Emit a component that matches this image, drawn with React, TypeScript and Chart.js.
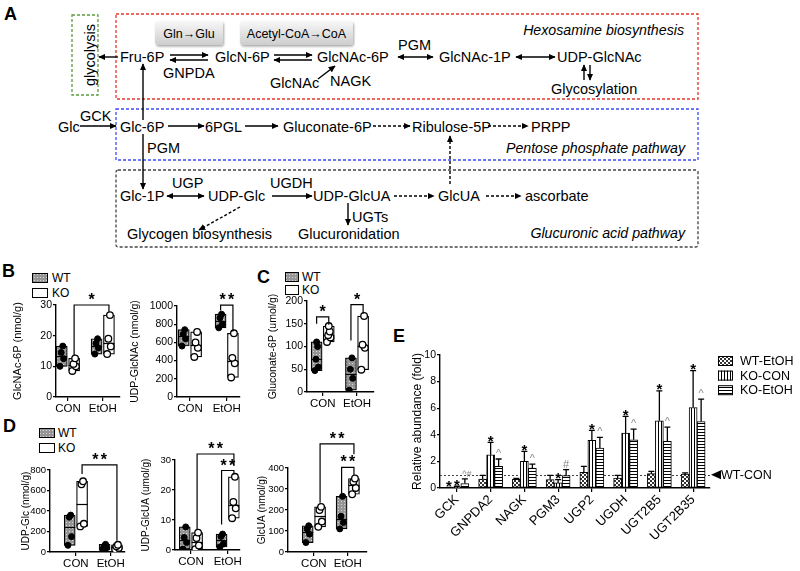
import React, { useEffect, useRef } from 'react';
import { Chart, registerables } from 'chart.js';
Chart.register(...registerables);

const FONT = '"Liberation Sans", Arial, Helvetica, sans-serif';

// ---------------- data ----------------
const GROUPS = ['CON', 'EtOH'];

// Panel B
const glcnac6pWT = [[10, 12.5, 14.5, 16.6], [14, 16, 17.5, 19]];
const glcnac6pKO = [[8.5, 10, 10.8, 12.6], [14, 16.5, 19, 26.7]];
const glcnac6pSig = [{ a: 1, b: 3, y: 30, dropA: 13.5, dropB: 27.8, n: 1 }];

const udpGlcnacWT = [[560, 640, 690, 740], [760, 800, 870, 910]];
const udpGlcnacKO = [[440, 540, 600, 715], [215, 370, 430, 700]];
const udpGlcnacSig = [{ a: 2, b: 3, y: 1010, dropA: 950, dropB: 720, n: 2 }];

// Panel C
const gluconate6pWT = [[47, 55, 72, 100, 110], [4, 30, 50, 75]];
const gluconate6pKO = [[110, 120, 125, 133, 145], [49, 97, 104, 167]];
const gluconate6pSig = [
  { a: 0, b: 1, y: 165, dropA: 150, dropB: 148, n: 1 },
  { a: 2, b: 3, y: 192, dropA: 113, dropB: 172, n: 1 },
];

// Panel D
const udpGlcWT = [[65, 150, 340, 360], [20, 40, 55, 75]];
const udpGlcKO = [[250, 275, 660, 690], [25, 40, 55, 70]];
const udpGlcSig = [{ a: 1, b: 3, y: 850, dropA: 760, dropB: 110, n: 2 }];

const udpGlcuaWT = [[0.3, 2.5, 4.2, 7.7], [1, 2, 4.5, 5.3]];
const udpGlcuaKO = [[0.3, 1.5, 4, 5.8], [10.6, 13.9, 16, 24.4]];
const udpGlcuaSig = [
  { a: 1, b: 3, y: 32, dropA: 7, dropB: 28, n: 2 },
  { a: 2, b: 3, y: 26.5, dropA: 8.5, dropB: 25.2, n: 2 },
];

const glcuaWT = [[45, 85, 110, 125], [110, 140, 170, 265]];
const glcuaKO = [[120, 145, 200, 215], [275, 305, 335, 350]];
const glcuaSig = [
  { a: 1, b: 3, y: 515, dropA: 235, dropB: 465, n: 2 },
  { a: 2, b: 3, y: 403, dropA: 280, dropB: 365, n: 2 },
];

// Panel E
const genes = ['GCK', 'GNPDA2', 'NAGK', 'PGM3', 'UGP2', 'UGDH', 'UGT2B5', 'UGT2B35'];
const wtEtoh = [0.03, 0.68, 0.65, 0.63, 1.18, 0.75, 1.08, 1.05];
const wtEtohErr = [0.02, 0.27, 0.08, 0.32, 0.45, 0.2, 0.17, 0.08];
const koCon = [0.08, 2.5, 2.0, 0.38, 3.58, 4.13, 5.05, 6.05];
const koConErr = [0.05, 0.93, 0.75, 0.25, 0.75, 1.25, 2.25, 2.78];
const koEtoh = [0.33, 1.63, 1.5, 0.93, 3.0, 3.63, 3.5, 5.0];
const koEtohErr = [0.35, 0.55, 0.3, 0.45, 0.8, 0.8, 1.08, 1.68];
const wtEtohMarks = ['*', '', '', '', '', '', '', ''];
const koConMarks = ['*', '*', '*', '*', '*', '*', '*', '*'];
const koEtohMarks = ['^#', '^', '^', '#', '^', '^', '^', '^'];
const eLegend = ['WT-EtOH', 'KO-CON', 'KO-EtOH'];

// ---------------- helpers ----------------
function tile(w: number, h: number, draw: (c: CanvasRenderingContext2D) => void): CanvasPattern {
  const c = document.createElement('canvas');
  c.width = w; c.height = h;
  const x = c.getContext('2d')!;
  draw(x);
  return x.createPattern(c, 'repeat')!;
}
const wtPattern = () => tile(3, 3, (c) => { c.fillStyle = '#959595'; c.fillRect(0, 0, 3, 3); c.fillStyle = '#d6d6d6'; c.fillRect(1, 1, 1, 1); });
const median = (a: number[]) => { const s = [...a].sort((p, q) => p - q); const m = Math.floor(s.length / 2); return s.length % 2 ? s[m] : (s[m - 1] + s[m]) / 2; };

function drawStar(ctx: CanvasRenderingContext2D, x: number, cy: number, n: number) {
  ctx.save();
  ctx.fillStyle = '#000';
  ctx.font = `bold 16px ${FONT}`;
  ctx.textAlign = 'center';
  ctx.textBaseline = 'alphabetic';
  for (let i = 0; i < n; i++) {
    const sx = x + (i - (n - 1) / 2) * 8.5;
    ctx.fillText('*', sx, cy + 9);
  }
  ctx.restore();
}

type Bracket = { a: number; b: number; y: number; dropA: number; dropB: number; n: number };
type BoxSpec = {
  title: string; yMax: number; yStep: number;
  wt: number[][]; ko: number[][]; sig: Bracket[];
  canvas: { left: number; top: number; width: number; height: number };
  area: { left: number; top: number; right: number; bottom: number };
  con: number; etoh: number; titleSize: number; tickSize: number;
};

const BOX_SPECS: BoxSpec[] = [
  { title: 'GlcNAc-6P (nmol/g)', yMax: 30, yStep: 10, wt: glcnac6pWT, ko: glcnac6pKO, sig: glcnac6pSig,
    canvas: { left: 8, top: 282, width: 117, height: 138 }, area: { left: 56, top: 305, right: 120, bottom: 397 }, con: 68, etoh: 103, titleSize: 11, tickSize: 10.5 },
  { title: 'UDP-GlcNAc (nmol/g)', yMax: 1000, yStep: 200, wt: udpGlcnacWT, ko: udpGlcnacKO, sig: udpGlcnacSig,
    canvas: { left: 126, top: 282, width: 119, height: 138 }, area: { left: 177, top: 306, right: 240, bottom: 397 }, con: 190, etoh: 227, titleSize: 10.5, tickSize: 10.5 },
  { title: 'Gluconate-6P (umol/g)', yMax: 200, yStep: 50, wt: gluconate6pWT, ko: gluconate6pKO, sig: gluconate6pSig,
    canvas: { left: 264, top: 278, width: 115, height: 137 }, area: { left: 307, top: 301, right: 375, bottom: 392 }, con: 323, etoh: 358, titleSize: 10.5, tickSize: 10.5 },
  { title: 'UDP-Glc (nmol/g)', yMax: 800, yStep: 200, wt: udpGlcWT, ko: udpGlcKO, sig: udpGlcSig,
    canvas: { left: 17, top: 440, width: 113, height: 131 }, area: { left: 50, top: 470, right: 125, bottom: 552 }, con: 76, etoh: 111, titleSize: 10, tickSize: 9.5 },
  { title: 'UDP-GlcUA (umol/g)', yMax: 30, yStep: 10, wt: udpGlcuaWT, ko: udpGlcuaKO, sig: udpGlcuaSig,
    canvas: { left: 137, top: 430, width: 108, height: 141 }, area: { left: 175, top: 460, right: 240, bottom: 550 }, con: 191, etoh: 228, titleSize: 10, tickSize: 9.5 },
  { title: 'GlcUA (nmol/g)', yMax: 400, yStep: 100, wt: glcuaWT, ko: glcuaKO, sig: glcuaSig,
    canvas: { left: 253, top: 425, width: 119, height: 146 }, area: { left: 288, top: 468, right: 367, bottom: 552 }, con: 314, etoh: 348, titleSize: 10, tickSize: 9.5 },
];

function BoxChart({ spec }: { spec: BoxSpec }) {
  const ref = useRef<HTMLCanvasElement>(null);
  useEffect(() => {
    const { canvas: cv, area } = spec;
    const ppu = spec.etoh - spec.con;
    const xmin = 1 - (spec.con - area.left) / ppu;
    const xmax = 2 + (area.right - spec.etoh) / ppu;
    const off = 6.2 / ppu;
    const pos = [1 - off, 1 + off, 2 - off, 2 + off];
    const jit = [-1.8, 1.8, -0.6, 1.0, 0].map((j) => j / ppu);
    const groups = [spec.wt[0], spec.ko[0], spec.wt[1], spec.ko[1]];
    const pts = (gi: number[]) => gi.flatMap((g) => groups[g].map((v, i) => ({ x: pos[g] + jit[i % jit.length], y: v })));
    const box = (gi: number[]) => gi.map((g) => ({ x: pos[g], y: [Math.min(...groups[g]), Math.max(...groups[g])] }));

    const medianPlugin = {
      id: 'medians',
      afterDatasetDraw(chart: any, args: any) {
        const ds = chart.data.datasets[args.index];
        if (!ds.medians) return;
        const ctx = chart.ctx; const y = chart.scales.y;
        args.meta.data.forEach((el: any, i: number) => {
          const { x, width } = el.getProps(['x', 'width'], true);
          const py = Math.round(y.getPixelForValue(ds.medians[i])) + 0.5;
          ctx.save(); ctx.strokeStyle = '#000'; ctx.lineWidth = 1.2;
          ctx.beginPath(); ctx.moveTo(x - width / 2, py); ctx.lineTo(x + width / 2, py); ctx.stroke(); ctx.restore();
        });
      },
    };
    const bracketPlugin = {
      id: 'brackets',
      afterDraw(chart: any) {
        const ctx = chart.ctx; const xs = chart.scales.x; const ys = chart.scales.y;
        spec.sig.forEach((b) => {
          const xa = xs.getPixelForValue(pos[b.a]); const xb = xs.getPixelForValue(pos[b.b]);
          const yl = ys.getPixelForValue(b.y);
          ctx.save(); ctx.strokeStyle = '#000'; ctx.lineWidth = 1.2;
          ctx.beginPath();
          ctx.moveTo(xa, ys.getPixelForValue(b.dropA)); ctx.lineTo(xa, yl); ctx.lineTo(xb, yl); ctx.lineTo(xb, ys.getPixelForValue(b.dropB));
          ctx.stroke(); ctx.restore();
          drawStar(ctx, (xa + xb) / 2, yl - 9, b.n);
        });
      },
    };
    const chart = new Chart(ref.current!, {
      type: 'bar',
      data: {
        datasets: [
          { type: 'scatter', data: pts([0, 2]), pointRadius: 3, pointBackgroundColor: '#000', pointBorderColor: '#000', pointBorderWidth: 1, order: 0 } as any,
          { type: 'scatter', data: pts([1, 3]), pointRadius: 3.3, pointBackgroundColor: '#fff', pointBorderColor: '#000', pointBorderWidth: 1.3, order: 0 } as any,
          { type: 'bar', data: box([0, 2]), medians: [median(groups[0]), median(groups[2])], backgroundColor: wtPattern(), borderColor: '#000', borderWidth: 1.2, borderSkipped: false, barThickness: 11, grouped: false, order: 1 } as any,
          { type: 'bar', data: box([1, 3]), medians: [median(groups[1]), median(groups[3])], backgroundColor: '#fff', borderColor: '#000', borderWidth: 1.2, borderSkipped: false, barThickness: 11, grouped: false, order: 1 } as any,
        ],
      },
      options: {
        responsive: false,
        animation: false,
        layout: { padding: { left: 0, top: area.top - cv.top, right: cv.left + cv.width - area.right, bottom: 0 } },
        plugins: { legend: { display: false }, tooltip: { enabled: false } },
        scales: {
          x: {
            type: 'linear', min: xmin, max: xmax, offset: false,
            afterBuildTicks: (s: any) => { s.ticks = [{ value: 1 }, { value: 2 }]; },
            afterFit: (s: any) => { s.height = cv.top + cv.height - area.bottom; },
            ticks: { callback: (v: any) => GROUPS[Number(v) - 1], color: '#000', font: { family: FONT, size: 11.5 }, padding: 1, autoSkip: false, maxRotation: 0 },
            grid: { drawOnChartArea: false, offset: false, tickLength: 4, color: '#000', lineWidth: 1.2 },
            border: { color: '#000', width: 1.4 },
          },
          y: {
            min: 0, max: spec.yMax,
            afterFit: (s: any) => { s.width = area.left - cv.left; },
            ticks: { stepSize: spec.yStep, callback: (v: any) => String(v), color: '#000', font: { family: FONT, size: spec.tickSize }, padding: 1 },
            title: { display: true, text: spec.title, color: '#000', font: { family: FONT, size: spec.titleSize }, padding: { top: 3, bottom: 3 } },
            grid: { drawOnChartArea: false, tickLength: 3, color: '#000', lineWidth: 1.2 },
            border: { color: '#000', width: 1.4 },
          },
        },
      } as any,
      plugins: [medianPlugin, bracketPlugin],
    });
    return () => chart.destroy();
  }, []);
  const { canvas: cv } = spec;
  return <canvas ref={ref} width={cv.width} height={cv.height} style={{ position: 'absolute', left: cv.left, top: cv.top, width: cv.width, height: cv.height }} />;
}

function EChart() {
  const ref = useRef<HTMLCanvasElement>(null);
  useEffect(() => {
    const checker = tile(4, 4, (c) => { c.fillStyle = '#fff'; c.fillRect(0, 0, 4, 4); c.fillStyle = '#333'; c.fillRect(0, 0, 2, 2); c.fillRect(2, 2, 2, 2); });
    const vstripe = tile(3, 1, (c) => { c.fillStyle = '#fff'; c.fillRect(0, 0, 3, 1); c.fillStyle = '#000'; c.fillRect(0, 0, 1, 1); });
    const hstripe = tile(1, 3, (c) => { c.fillStyle = '#fff'; c.fillRect(0, 0, 1, 3); c.fillStyle = '#000'; c.fillRect(0, 0, 1, 1); });
    const pats = [checker, vstripe, hstripe];
    const errs = [wtEtohErr, koConErr, koEtohErr];
    const marks = [wtEtohMarks, koConMarks, koEtohMarks];

    const refLine = {
      id: 'refLine',
      beforeDatasetsDraw(chart: any) {
        const ctx = chart.ctx; const y = chart.scales.y.getPixelForValue(1); const a = chart.chartArea;
        ctx.save(); ctx.strokeStyle = '#444'; ctx.lineWidth = 1; ctx.setLineDash([2, 2]);
        ctx.beginPath(); ctx.moveTo(a.left, Math.round(y) + 0.5); ctx.lineTo(a.right, Math.round(y) + 0.5); ctx.stroke(); ctx.restore();
      },
      afterDraw(chart: any) {
        const ctx = chart.ctx; const y = chart.scales.y.getPixelForValue(1); const a = chart.chartArea;
        ctx.save();
        ctx.fillStyle = '#000';
        ctx.beginPath(); ctx.moveTo(a.right + 1, y); ctx.lineTo(a.right + 11, y - 4.5); ctx.lineTo(a.right + 11, y + 4.5); ctx.closePath(); ctx.fill();
        ctx.font = `12.5px ${FONT}`; ctx.textBaseline = 'middle'; ctx.textAlign = 'left';
        ctx.fillText('WT-CON', a.right + 11, y + 0.5);
        eLegend.forEach((lab, i) => {
          const ly = a.top + 1 + i * 14.6;
          ctx.fillStyle = pats[i]; ctx.fillRect(a.right + 8, ly, 15, 10);
          ctx.strokeStyle = '#000'; ctx.lineWidth = 1; ctx.strokeRect(a.right + 8.5, ly + 0.5, 14, 9);
          ctx.fillStyle = '#000'; ctx.fillText(lab, a.right + 30, ly + 5.5);
        });
        ctx.restore();
      },
    };
    const errPlugin = {
      id: 'errs',
      afterDatasetsDraw(chart: any) {
        const ctx = chart.ctx; const ys = chart.scales.y;
        chart.data.datasets.forEach((ds: any, di: number) => {
          const meta = chart.getDatasetMeta(di);
          meta.data.forEach((el: any, i: number) => {
            const { x, y } = el.getProps(['x', 'y'], true);
            const cap = ys.getPixelForValue(ds.data[i] + errs[di][i]);
            ctx.save(); ctx.strokeStyle = '#000'; ctx.lineWidth = 1.3;
            ctx.beginPath(); ctx.moveTo(x, y); ctx.lineTo(x, cap); ctx.moveTo(x - 3, cap); ctx.lineTo(x + 3, cap); ctx.stroke();
            const m = marks[di][i];
            if (m === '*') {
              ctx.fillStyle = '#000'; ctx.font = `bold 15px ${FONT}`; ctx.textAlign = 'center'; ctx.textBaseline = 'alphabetic';
              ctx.fillText('*', x, cap + 3.5);
            } else if (m) {
              ctx.fillStyle = '#888'; ctx.font = `${m.length > 1 ? 9 : 11}px ${FONT}`; ctx.textAlign = 'center'; ctx.textBaseline = 'alphabetic';
              ctx.fillText(m, x + (m.length > 1 ? 2 : 0), cap - 2);
            }
            ctx.restore();
          });
        });
      },
    };
    const chart = new Chart(ref.current!, {
      type: 'bar',
      data: {
        labels: genes,
        datasets: [wtEtoh, koCon, koEtoh].map((d, i) => ({
          label: eLegend[i], data: d, backgroundColor: pats[i], borderColor: '#000', borderWidth: 1,
          borderSkipped: false, barThickness: 8, categoryPercentage: 0.8,
        })),
      },
      options: {
        responsive: false,
        animation: false,
        layout: { padding: { left: 6, top: 25, right: 90, bottom: 0 } },
        plugins: { legend: { display: false }, tooltip: { enabled: false } },
        scales: {
          x: {
            afterFit: (s: any) => { s.height = 83; },
            ticks: { color: '#000', font: { family: FONT, size: 13 }, minRotation: 45, maxRotation: 45, autoSkip: false, padding: 0 },
            grid: { drawOnChartArea: false, offset: false, tickLength: 4, color: '#000', lineWidth: 1.2 },
            border: { color: '#000', width: 1.4 },
          },
          y: {
            min: 0, max: 10,
            afterFit: (s: any) => { s.width = 34; },
            ticks: { stepSize: 2, color: '#000', font: { family: FONT, size: 10.5 }, padding: 1 },
            title: { display: true, text: 'Relative abundance (fold)', color: '#000', font: { family: FONT, size: 12 }, padding: { top: 4, bottom: 4 } },
            grid: { drawOnChartArea: false, tickLength: 3, color: '#000', lineWidth: 1.2 },
            border: { color: '#000', width: 1.4 },
          },
        },
      } as any,
      plugins: [refLine, errPlugin],
    });
    return () => chart.destroy();
  }, []);
  return <canvas ref={ref} width={400} height={241} style={{ position: 'absolute', left: 400, top: 330, width: 400, height: 241 }} />;
}

// ---------------- pathway diagram ----------------
function Diagram() {
  const F = 14.5;
  const T = (x: number, cy: number, s: string, opts: any = {}) => {
    const size = opts.size || F;
    return (
      <text x={x} y={cy + size * 0.36} fontSize={size} fontStyle={opts.italic ? 'italic' : 'normal'} fontWeight={opts.bold ? 'bold' : 'normal'} textAnchor={opts.anchor || 'start'} fill={opts.fill || '#000'}>{s}</text>
    );
  };
  const A = (x1: number, y1: number, x2: number, y2: number, opts: any = {}) => (
    <line x1={x1} y1={y1} x2={x2} y2={y2} stroke="#000" strokeWidth={1.4} strokeDasharray={opts.d ? '3 2' : undefined}
      markerEnd="url(#ah)" markerStart={opts.both ? 'url(#ah)' : undefined} />
  );
  return (
    <svg width={800} height={571} style={{ position: 'absolute', left: 0, top: 0 }} fontFamily={FONT}>
      <defs>
        <marker id="ah" viewBox="0 0 10 10" refX="9" refY="5" markerWidth="7" markerHeight="7" markerUnits="userSpaceOnUse" orient="auto-start-reverse">
          <path d="M0,0.5 L10,5 L0,9.5 z" fill="#000" />
        </marker>
        <linearGradient id="gbox" x1="0" y1="0" x2="0" y2="1">
          <stop offset="0" stopColor="#f8f8f8" />
          <stop offset="1" stopColor="#cdcdcd" />
        </linearGradient>
        <filter id="sh" x="-10%" y="-20%" width="130%" height="160%">
          <feDropShadow dx="1" dy="1.5" stdDeviation="1" floodOpacity="0.35" />
        </filter>
        <pattern id="wtpat" width="3" height="3" patternUnits="userSpaceOnUse">
          <rect width="3" height="3" fill="#959595" />
          <rect x="1" y="1" width="1" height="1" fill="#d6d6d6" />
        </pattern>
      </defs>

      {T(4, 14, 'A', { size: 18, bold: true })}
      {T(2, 270.5, 'B', { size: 18, bold: true })}
      {T(257, 276.5, 'C', { size: 18, bold: true })}
      {T(3, 425.5, 'D', { size: 18, bold: true })}
      {T(393, 335.5, 'E', { size: 18, bold: true })}

      <rect x={72} y={15} width={26} height={80} fill="none" stroke="#5c9c3c" strokeWidth={1.3} strokeDasharray="3 2" />
      <rect x={116} y={14} width={582} height={85} fill="none" stroke="#e8352b" strokeWidth={1.3} strokeDasharray="3 2" />
      <rect x={116} y={109} width={582} height={51} fill="none" stroke="#3c4cf5" strokeWidth={1.3} strokeDasharray="3 2" />
      <rect x={116} y={170} width={582} height={77} fill="none" stroke="#444" strokeWidth={1.3} strokeDasharray="3 2" rx={2} />
      <text transform="translate(95,55) rotate(-90)" x={0} y={0} fontSize={F} textAnchor="middle" fill="#000">glycolysis</text>

      <rect x={155} y={21} width={68} height={24} rx={3} fill="url(#gbox)" filter="url(#sh)" />
      {T(189, 33, 'Gln→Glu', { size: 12.5, anchor: 'middle' })}
      <rect x={240} y={21} width={113} height={24} rx={3} fill="url(#gbox)" filter="url(#sh)" />
      {T(296.5, 33, 'Acetyl-CoA→CoA', { size: 12.5, anchor: 'middle' })}

      {T(120, 57, 'Fru-6P')}
      {T(215, 57, 'GlcN-6P')}
      {T(317, 57, 'GlcNAc-6P')}
      {T(439, 57, 'GlcNAc-1P')}
      {T(557, 57, 'UDP-GlcNAc')}
      {T(163, 73, 'GNPDA')}
      {T(270, 83, 'GlcNAc')}
      {T(330, 81, 'NAGK')}
      {T(398, 45, 'PGM')}
      {T(551, 89, 'Glycosylation')}
      {T(684, 30, 'Hexosamine biosynthesis', { italic: true, anchor: 'end', size: 14.2 })}
      {A(118, 57, 99, 57)}
      {A(170, 55, 208, 55)}
      {A(208, 60, 170, 60)}
      {A(274, 55, 312, 55)}
      {A(312, 60, 274, 60)}
      {A(318, 79, 335, 66)}
      {A(398, 57, 433, 57, { both: true })}
      {A(516, 57, 555, 57, { both: true })}
      {A(584, 80, 584, 65)}
      {A(590, 65, 590, 80)}
      {A(143, 120, 143, 64)}

      {T(58, 127, 'Glc')}
      {T(80, 116, 'GCK')}
      {T(120, 127, 'Glc-6P')}
      {T(205, 127, '6PGL')}
      {T(283, 127, 'Gluconate-6P')}
      {T(412, 127, 'Ribulose-5P')}
      {T(531, 127, 'PRPP')}
      {T(685, 148, 'Pentose phosphate pathway', { italic: true, anchor: 'end', size: 14.2 })}
      {A(80, 126, 116, 126)}
      {A(168, 126, 204, 126)}
      {A(245, 126, 278, 126)}
      {A(373, 126, 410, 126, { d: true })}
      {A(488, 126, 528, 126, { d: true })}
      {A(143, 134, 143, 189)}
      {T(147, 148, 'PGM')}

      {T(120, 196, 'Glc-1P')}
      {T(172, 183, 'UGP')}
      {T(208, 196, 'UDP-Glc')}
      {T(270, 183, 'UGDH')}
      {T(313, 196, 'UDP-GlcUA')}
      {T(438, 196, 'GlcUA')}
      {T(525, 196, 'ascorbate')}
      {T(127, 234, 'Glycogen biosynthesis')}
      {T(298, 234, 'Glucuronidation')}
      {T(352, 217, 'UGTs')}
      {T(685, 233, 'Glucuronic acid pathway', { italic: true, anchor: 'end', size: 14.2 })}
      {A(167, 196, 204, 196, { both: true })}
      {A(272, 196, 312, 196)}
      {A(394, 196, 434, 196, { d: true })}
      {A(486, 196, 521, 196, { d: true })}
      {A(450, 184, 450, 136, { d: true })}
      {A(240, 207, 199, 230, { d: true })}
      {A(348, 203, 348, 225)}

      <rect x={32.5} y={273.5} width={15} height={9} fill="url(#wtpat)" stroke="#000" strokeWidth={1} />
      {T(52, 278, 'WT', { size: 12 })}
      <rect x={32.5} y={288.5} width={15} height={9} fill="#fff" stroke="#000" strokeWidth={1} />
      {T(52, 293, 'KO', { size: 12 })}

      <rect x={285.5} y={272.5} width={13} height={9} fill="url(#wtpat)" stroke="#000" strokeWidth={1} />
      {T(302, 277, 'WT', { size: 12 })}
      <rect x={285.5} y={285.5} width={13} height={9} fill="#fff" stroke="#000" strokeWidth={1} />
      {T(302, 290, 'KO', { size: 12 })}

      <rect x={39.5} y={428.5} width={15} height={9} fill="url(#wtpat)" stroke="#000" strokeWidth={1} />
      {T(58, 433, 'WT', { size: 12 })}
      <rect x={39.5} y={443.5} width={15} height={9} fill="#fff" stroke="#000" strokeWidth={1} />
      {T(58, 448, 'KO', { size: 12 })}
    </svg>
  );
}

export default function App() {
  return (
    <div style={{ position: 'absolute', left: 0, top: 0, width: 800, height: 571, background: '#fff', overflow: 'hidden' }}>
      <Diagram />
      {BOX_SPECS.map((s, i) => <BoxChart key={i} spec={s} />)}
      <EChart />
    </div>
  );
}
